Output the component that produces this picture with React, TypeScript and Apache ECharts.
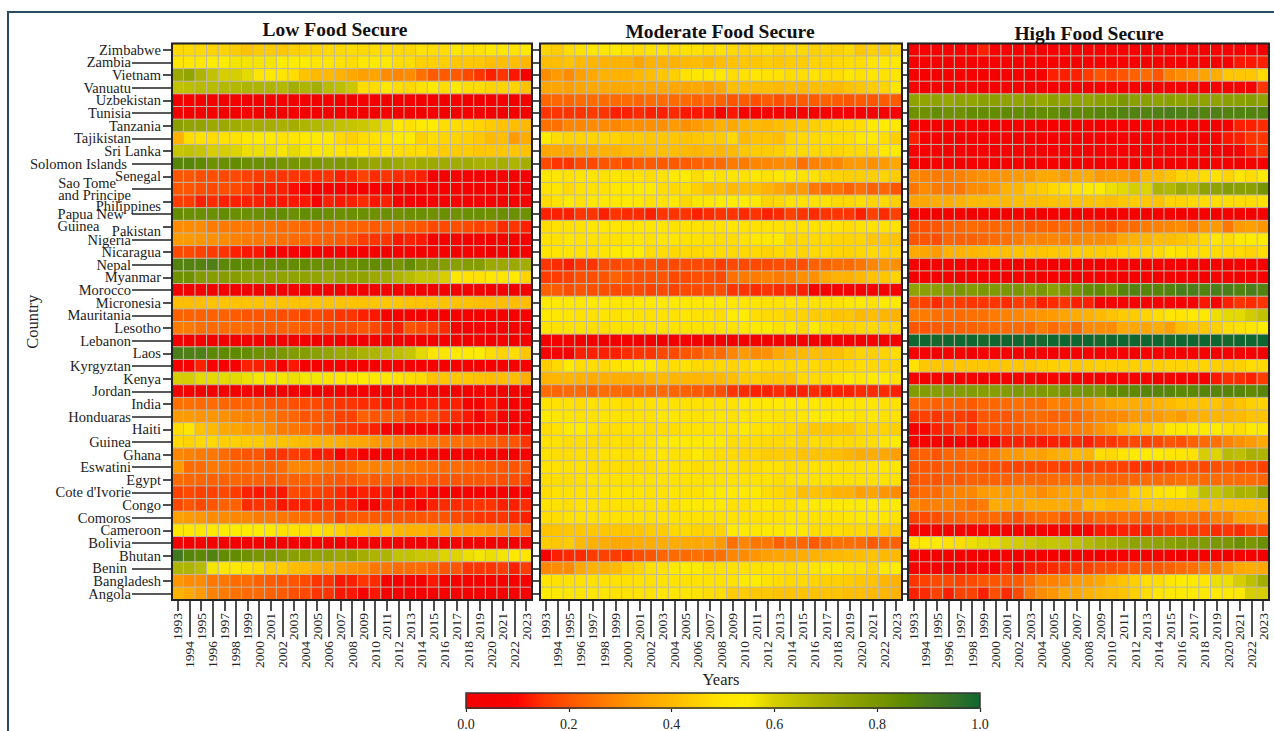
import React, { useEffect, useRef } from "react";
import * as echarts from "echarts";

const countries = ["Zimbabwe","Zambia","Vietnam","Vanuatu","Uzbekistan","Tunisia","Tanzania","Tajikistan","Sri Lanka","Solomon Islands","Senegal","Sao Tome\nand Principe","Philippines","Papua New\nGuinea","Pakistan","Nigeria","Nicaragua","Nepal","Myanmar","Morocco","Micronesia","Mauritania","Lesotho","Lebanon","Laos","Kyrgyztan","Kenya","Jordan","India","Honduaras","Haiti","Guinea","Ghana","Eswatini","Egypt","Cote d'Ivorie","Congo","Comoros","Cameroon","Bolivia","Bhutan","Benin","Bangladesh","Angola"];
const years = ["1993","1994","1995","1996","1997","1998","1999","2000","2001","2002","2003","2004","2005","2006","2007","2008","2009","2010","2011","2012","2013","2014","2015","2016","2017","2018","2019","2020","2021","2022","2023"];
const panelTitles = ["Low Food Secure","Moderate Food Secure","High Food Secure"];
const colorbarPalette = ["#f60000","#f20000","#fb0300","#ff3400","#ff5500","#ff7000","#ff8c00","#ffa500","#ffba00","#ffd000","#ffe600","#fcec00","#d6ce00","#bcc000","#a4ae00","#8ea200","#7a9600","#5f8a00","#4a7e1a","#357228","#0f6630"];

// values in percent of the 0 to 1 scale, rows top to bottom, columns 1993 to 2023
const lowFood = [
[47,47,47,46,46,44,42,44,44,43,45,46,46,47,47,48,47,48,48,47,47,49,48,48,51,49,49,52,52,49,52],
[50,51,51,55,55,56,56,56,56,55,55,55,50,50,49,48,52,53,53,48,48,45,45,45,43,43,43,41,41,41,39],
[72,74,68,64,60,60,58,50,53,50,48,42,40,40,38,36,34,35,30,29,30,25,21,21,21,18,15,13,15,12,5],
[64,65,66,66,67,67,68,68,68,67,70,68,70,66,65,62,48,48,52,48,47,49,53,48,53,48,48,46,46,46,42],
[5,6,5,4,5,6,5,5,4,6,5,5,4,6,5,5,6,4,5,5,6,5,4,5,6,5,5,4,6,5,5],
[5,5,4,6,5,5,6,5,5,4,6,5,5,4,5,6,5,5,6,5,4,5,6,5,5,6,4,5,5,6,5],
[76,74,74,72,72,71,70,70,70,69,70,68,67,66,64,63,62,60,58,52,49,53,54,48,48,47,46,44,42,41,40],
[38,48,49,48,49,49,52,53,53,49,50,52,53,53,47,45,48,49,50,53,54,45,48,46,46,45,43,40,41,33,37],
[63,64,63,60,60,59,57,57,57,56,58,56,50,56,49,49,50,48,49,48,48,48,46,44,44,44,43,43,43,43,42],
[87,87,85,82,83,84,83,83,83,81,81,80,80,78,79,78,75,73,74,72,70,72,72,71,71,71,69,69,70,68,70],
[20,20,19,19,18,18,17,16,16,15,15,15,14,15,13,14,17,14,15,14,14,13,6,6,6,6,6,6,6,6,6],
[20,20,19,18,19,18,16,13,13,13,11,8,7,8,6,7,6,7,6,6,5,6,6,7,6,6,5,6,6,6,5],
[16,16,13,14,13,13,13,13,12,12,12,12,7,13,12,13,14,12,13,6,6,6,6,6,6,6,6,6,6,6,6],
[84,83,83,83,84,83,83,83,84,84,83,84,84,83,83,83,83,82,83,82,83,83,82,83,82,83,83,82,83,83,82],
[30,30,30,27,27,26,26,25,25,24,24,23,22,22,23,22,22,21,22,22,21,20,18,18,19,18,17,18,14,15,13],
[33,33,32,31,30,28,27,26,26,25,24,23,22,22,21,20,16,15,15,12,13,12,6,6,6,6,6,6,6,6,6],
[18,18,17,16,15,13,12,12,7,8,7,7,7,7,7,6,6,6,5,6,6,5,6,6,5,6,6,5,6,6,5],
[88,88,88,89,86,86,85,84,84,84,84,84,83,83,83,82,84,84,84,81,84,80,80,77,76,77,77,72,72,72,70],
[82,82,78,77,77,77,75,75,75,75,75,75,74,72,74,74,75,72,71,68,66,63,63,60,51,49,49,51,50,53,46],
[5,5,4,5,6,5,5,4,5,5,6,5,4,5,5,6,5,5,4,5,6,5,5,4,5,6,5,5,4,5,5],
[41,41,41,42,42,42,42,42,42,42,42,42,42,42,42,42,42,43,43,43,42,42,42,42,42,42,41,41,41,41,41],
[22,22,22,22,22,21,20,20,20,19,19,17,18,17,15,15,13,12,6,6,6,6,6,6,6,6,6,6,6,6,6],
[27,27,25,24,24,24,24,22,22,22,22,21,20,19,19,19,20,18,14,13,20,18,17,14,6,6,6,6,6,6,6],
[5,5,6,5,4,5,5,6,5,4,5,5,5,6,5,4,5,5,6,5,4,5,5,6,5,5,4,5,6,5,5],
[90,89,89,86,85,85,84,82,82,80,78,77,76,74,72,72,69,68,66,65,63,58,50,50,53,53,54,48,46,48,43],
[6,8,13,6,7,7,13,13,12,7,12,6,7,7,7,7,6,6,7,6,6,7,6,6,7,6,6,7,6,6,7],
[60,60,58,58,58,58,57,56,56,56,57,56,56,49,50,51,53,53,50,49,48,47,42,42,43,43,42,41,41,41,37],
[5,6,5,5,4,5,6,5,4,5,5,6,5,5,4,5,6,5,4,5,5,6,5,4,5,5,6,5,5,4,5],
[25,25,24,24,23,22,22,22,20,20,19,18,18,16,15,15,14,14,12,13,12,12,13,12,13,6,6,12,6,6,6],
[33,33,32,32,31,29,28,28,27,24,23,20,21,20,17,17,22,20,21,20,17,18,18,15,14,12,6,13,6,6,6],
[48,50,42,40,36,35,33,33,30,27,26,24,21,20,16,15,14,13,7,6,6,6,6,6,6,6,6,6,6,6,6],
[47,46,47,47,45,45,44,44,42,42,41,40,38,38,37,36,35,33,31,29,28,27,26,25,25,24,23,22,20,20,15],
[29,28,27,26,24,21,20,20,16,15,16,15,12,13,7,12,6,6,6,7,6,6,6,7,6,6,6,6,7,6,6],
[33,24,24,26,26,24,24,24,23,24,29,29,28,27,25,26,29,28,28,27,26,25,24,24,24,23,22,21,20,20,20],
[24,23,23,22,22,23,22,22,21,22,22,22,22,21,20,21,22,21,22,21,21,21,20,20,20,20,20,20,19,19,17],
[17,18,17,17,18,16,13,12,13,12,18,17,17,16,14,12,13,12,13,6,6,12,7,7,6,6,6,6,6,6,6],
[18,20,18,20,22,22,14,15,15,12,13,13,12,14,13,13,6,6,13,13,12,6,13,14,14,14,15,15,13,13,14],
[34,33,32,30,30,29,29,27,27,26,25,24,23,22,18,21,21,21,20,20,20,20,20,20,18,17,15,15,15,14,13],
[50,51,50,53,53,54,54,54,53,49,49,48,49,47,45,42,42,41,42,39,38,38,36,36,35,34,34,32,31,29,27],
[5,5,6,5,5,4,5,6,5,5,4,5,6,5,5,5,4,5,6,5,5,5,4,5,6,5,5,5,4,5,6],
[92,87,86,88,84,84,82,80,80,78,76,76,74,74,72,74,70,68,68,64,64,62,62,59,59,57,56,57,56,52,50],
[68,68,66,56,52,53,49,48,44,44,41,40,37,36,33,32,30,26,26,24,24,24,22,20,20,15,15,15,16,13,16],
[32,30,30,26,26,24,24,22,21,20,20,18,15,15,12,13,15,14,6,6,6,6,12,6,6,6,6,6,6,6,6],
[38,36,33,28,27,25,24,24,22,21,19,18,15,15,12,12,6,12,6,6,6,6,6,7,6,6,6,6,6,6,6],
];
const moderateFood = [
[46,44,48,49,50,50,53,49,48,49,49,48,49,49,48,49,47,46,47,48,46,47,47,45,46,45,47,43,45,44,46],
[41,41,42,40,39,38,38,38,35,38,38,38,40,41,39,41,42,43,43,44,43,44,44,46,46,47,48,48,50,52,52],
[30,33,30,34,36,38,38,38,40,41,43,45,49,52,52,51,48,49,50,49,49,48,48,49,48,48,51,49,50,49,50],
[35,35,34,35,36,36,36,36,36,36,36,36,35,36,34,36,41,41,41,41,40,41,40,41,41,40,42,43,44,46,50],
[23,23,23,24,24,24,24,24,23,24,24,24,24,22,23,22,20,21,19,21,19,20,21,21,22,21,20,21,20,21,21],
[15,15,15,15,16,15,13,13,14,13,13,14,12,12,12,6,12,6,6,6,6,7,6,6,6,6,7,6,6,6,6],
[25,25,29,29,30,30,29,31,31,31,31,33,31,33,35,38,36,39,40,39,41,42,43,45,46,47,48,48,53,54,52],
[54,48,46,46,46,46,46,44,44,43,43,43,42,43,44,44,47,40,42,42,41,46,47,47,48,48,48,52,53,48,45],
[35,36,36,37,37,38,38,40,40,41,41,41,40,39,40,39,40,43,44,44,45,47,47,47,47,46,47,47,47,52,53],
[18,15,15,18,18,20,20,18,21,21,21,21,21,22,23,24,27,27,29,29,30,30,25,28,29,29,33,33,31,33,36],
[50,50,49,50,50,49,50,49,49,48,49,53,54,48,52,49,50,49,52,49,52,53,49,49,47,46,45,45,45,46,44],
[49,50,47,49,49,49,51,51,53,53,48,47,48,45,42,42,40,41,41,38,36,33,33,26,24,25,22,25,22,23,20],
[47,49,53,49,51,51,52,53,52,49,49,52,47,50,52,54,54,54,53,46,47,49,49,49,49,47,47,48,46,47,45],
[13,13,13,15,15,13,15,14,14,13,15,15,15,13,14,15,15,14,15,13,14,17,15,14,15,15,15,13,17,14,17],
[48,49,49,49,50,50,50,50,50,50,50,49,49,49,49,49,50,49,49,49,49,49,49,49,49,49,48,49,49,49,49],
[49,49,50,49,49,49,49,50,50,49,50,50,49,49,49,48,48,49,51,52,53,46,47,47,47,46,46,46,43,43,42],
[50,50,50,49,49,50,54,54,54,48,48,47,47,47,48,48,47,47,47,46,47,47,46,47,47,46,46,47,47,46,46],
[15,14,13,15,15,18,18,19,18,19,18,18,18,18,18,16,18,18,18,18,19,19,19,22,22,24,24,26,29,32,31],
[16,16,17,19,19,20,22,20,19,19,20,18,18,19,19,18,25,27,27,28,27,28,31,31,36,38,38,40,42,43,46],
[22,21,19,20,19,19,18,18,18,17,18,17,18,18,18,19,15,15,14,15,14,14,13,6,6,6,6,6,6,6,6],
[53,53,53,52,53,53,52,52,53,53,53,53,53,52,53,53,51,50,50,49,49,50,49,49,49,49,51,53,49,53,53],
[52,51,50,49,49,50,49,51,49,49,49,49,50,49,49,48,54,54,48,47,47,46,46,44,44,42,43,40,41,39,38],
[49,49,49,49,48,48,49,49,49,49,49,49,49,49,49,49,49,50,53,53,49,52,47,53,48,47,46,47,47,46,46],
[5,6,6,5,4,5,5,6,5,4,5,5,6,5,5,4,5,6,5,5,4,5,6,5,5,4,5,5,6,5,5],
[6,6,6,13,13,13,13,14,15,15,18,18,20,21,24,24,29,33,30,31,36,38,40,41,41,41,44,46,45,46,48],
[44,47,53,48,48,47,49,52,53,53,48,48,49,47,47,47,46,47,49,47,47,47,47,47,46,47,47,48,47,46,46],
[38,39,39,38,37,37,37,37,37,39,40,39,39,39,40,40,41,44,44,43,43,43,47,47,47,49,53,50,53,53,49],
[24,23,24,24,23,24,24,23,23,23,24,23,22,21,20,19,15,14,13,13,14,13,13,14,13,13,13,14,14,14,13],
[49,49,49,48,49,49,49,48,49,49,49,49,49,49,49,49,49,52,52,51,53,53,52,52,50,50,51,50,50,49,49],
[53,50,50,49,49,50,49,49,49,49,50,50,49,49,50,50,49,50,50,50,49,49,50,53,53,53,53,49,52,49,49],
[48,49,53,54,49,48,48,49,49,48,48,48,49,49,49,49,49,53,49,49,48,47,45,43,43,43,43,46,46,46,45],
[49,49,48,48,48,48,49,48,49,49,53,54,53,53,53,53,48,48,48,47,47,48,46,48,47,48,47,48,48,50,54],
[49,48,48,48,48,49,49,48,49,49,50,49,49,53,49,48,47,46,46,44,44,44,42,42,42,41,39,37,37,36,34],
[49,49,49,49,48,48,48,48,48,48,49,49,49,48,49,49,49,48,48,49,49,48,48,49,49,49,49,49,49,50,50],
[48,48,48,48,49,49,49,49,49,49,49,49,49,49,49,49,49,49,49,49,48,49,49,49,49,49,49,49,49,49,49],
[48,49,49,49,49,50,50,50,50,49,49,50,49,49,53,53,53,53,53,48,47,46,41,42,41,38,38,34,35,32,30],
[49,49,48,49,49,49,49,49,49,49,49,49,53,53,53,53,49,49,52,52,49,49,52,53,53,53,53,53,53,53,53],
[48,48,49,49,49,49,49,49,49,49,49,49,49,49,49,49,49,49,49,49,49,50,49,49,49,49,50,52,52,50,49],
[42,42,43,43,43,43,43,43,43,44,44,47,47,46,46,46,53,53,52,53,52,53,52,48,48,48,47,47,46,44,44],
[44,43,44,40,38,37,36,36,37,37,37,37,36,36,36,33,25,29,26,26,22,24,23,21,23,25,25,24,21,23,22],
[6,13,14,14,16,17,16,15,19,20,23,24,24,25,24,25,29,30,32,34,35,36,37,38,39,40,41,41,42,40,40],
[29,30,30,36,38,38,40,45,46,49,49,53,54,54,49,49,49,49,49,49,49,48,49,50,53,53,49,49,46,53,54],
[50,49,49,49,49,49,49,49,49,49,49,49,49,49,49,49,49,53,54,49,48,47,47,46,45,45,44,43,42,39,38],
[54,52,50,50,50,50,49,49,49,49,50,50,50,49,48,48,44,44,43,43,42,42,42,42,42,42,41,41,40,39,38],
];
const highFood = [
[6,6,6,6,6,6,13,6,6,6,6,5,6,6,6,5,6,6,6,6,5,6,6,6,6,5,6,6,6,6,5],
[6,6,6,5,6,6,6,6,6,5,6,6,6,6,5,6,6,6,6,6,5,6,6,6,6,6,5,6,12,12,13],
[6,6,5,6,6,6,6,5,6,6,6,6,13,13,13,16,20,18,20,22,24,20,28,30,32,35,37,43,43,43,47],
[6,5,6,6,6,6,5,6,6,6,5,6,6,6,6,5,6,6,6,6,5,6,6,6,5,6,6,6,6,6,15],
[75,74,75,73,75,74,76,76,75,74,76,73,76,74,75,74,76,76,80,76,76,75,76,75,76,75,75,76,76,77,75],
[82,82,84,82,82,84,84,84,85,84,85,84,84,87,85,85,87,87,88,88,88,89,90,89,89,88,89,88,88,88,88],
[6,6,5,6,6,6,5,6,6,6,6,5,6,6,6,6,5,6,6,6,6,5,6,6,6,6,5,6,13,13,14],
[13,6,6,6,5,6,6,6,6,5,6,6,6,6,5,6,6,6,6,5,6,6,6,6,5,6,6,12,13,15,15],
[6,6,6,5,6,6,6,5,6,6,6,5,6,6,6,5,6,6,6,5,6,6,6,5,6,6,6,5,6,13,15],
[6,5,6,6,5,6,6,5,6,6,5,6,6,5,6,6,5,6,6,5,6,6,5,6,6,5,6,6,5,6,6],
[30,28,27,27,28,30,31,31,32,33,33,36,36,33,36,37,33,34,34,32,40,40,42,46,46,48,49,46,50,48,53],
[26,30,27,26,26,30,30,33,38,39,43,44,47,48,49,53,54,57,58,60,59,68,67,72,69,75,75,77,76,76,81],
[35,35,37,37,38,40,40,40,40,41,41,41,42,42,42,42,42,41,43,44,43,42,46,46,47,48,48,48,48,48,49],
[6,6,5,6,6,5,6,6,5,6,6,5,6,6,5,6,6,5,6,6,5,6,6,5,6,6,5,6,6,5,6],
[19,19,20,22,23,24,23,23,24,24,22,23,22,24,23,24,22,21,24,24,27,28,29,30,27,32,33,26,33,34,32],
[20,20,19,23,22,22,23,24,25,27,29,28,29,28,29,30,30,31,36,38,39,41,41,42,44,47,50,48,53,54,54],
[36,35,33,38,38,39,40,41,41,42,42,42,43,43,44,44,44,45,46,46,46,47,50,49,48,48,48,47,47,46,48],
[6,5,6,6,6,5,6,6,6,5,6,6,5,6,6,6,5,6,6,6,5,6,6,6,5,6,6,5,6,6,6],
[5,6,6,6,5,6,6,6,5,6,6,5,6,6,5,6,6,6,5,6,6,5,6,6,6,5,6,6,5,6,6],
[75,76,76,78,80,78,80,79,80,80,78,80,76,80,81,84,85,82,87,88,87,87,88,90,90,88,90,90,88,90,88],
[19,17,14,17,16,15,15,15,14,16,16,13,14,15,13,13,6,6,6,6,6,6,6,7,6,12,6,13,15,14,15],
[27,27,25,24,24,25,25,27,28,29,31,32,33,35,37,38,40,42,44,44,46,48,50,50,53,52,57,58,58,61,64],
[20,20,21,21,22,22,23,24,24,24,23,27,24,27,24,30,30,30,36,36,35,37,34,41,43,43,45,48,49,50,54],
[100,100,99,100,100,100,99,100,100,100,100,99,100,100,100,100,99,100,100,100,100,100,99,100,100,100,100,99,100,100,100],
[6,6,5,6,6,5,6,6,6,5,6,6,5,6,6,6,5,6,6,5,6,6,6,5,6,6,5,6,6,6,5],
[49,43,43,42,43,43,43,42,43,43,43,44,45,45,43,44,45,45,45,45,45,45,46,46,46,46,45,44,45,48,47],
[6,5,6,6,6,6,5,6,6,6,6,5,6,6,6,6,5,6,6,6,6,5,6,6,6,6,12,14,14,13,16],
[78,78,77,78,77,78,77,77,78,79,78,79,78,81,80,81,80,84,85,85,87,87,87,86,86,87,87,87,87,85,87],
[23,23,22,22,22,21,23,23,24,25,24,24,28,27,28,30,33,36,37,37,37,38,40,42,42,42,42,39,42,45,46],
[15,17,15,17,16,15,20,20,20,22,24,24,22,23,23,26,29,29,30,33,33,33,35,33,37,38,39,39,40,42,42],
[6,6,13,14,18,14,20,20,20,21,22,23,25,26,27,28,31,34,40,42,43,46,51,52,53,53,54,49,48,53,50],
[6,6,6,5,6,6,6,6,13,13,13,12,13,13,14,13,15,15,17,18,17,18,20,19,22,24,25,28,31,33,36],
[21,22,20,23,24,26,26,28,32,33,35,34,37,38,40,39,48,47,50,53,54,54,50,50,49,60,59,66,65,69,68],
[20,20,20,21,20,20,19,19,18,17,17,17,17,16,17,16,17,17,17,15,15,15,16,18,19,18,19,20,18,19,17],
[20,21,20,21,21,22,22,22,22,23,23,23,24,24,24,24,24,23,23,23,24,24,24,25,25,24,24,24,24,24,23],
[22,24,24,27,29,29,33,34,33,34,33,30,33,35,36,34,36,34,36,45,46,49,50,52,58,65,63,66,69,68,76],
[30,27,28,28,27,25,27,37,36,34,37,37,37,37,34,41,42,40,40,41,42,42,42,42,41,41,41,41,41,41,40],
[17,18,19,21,22,24,23,24,21,19,23,24,24,20,22,21,23,23,24,23,22,23,22,26,26,24,28,28,34,34,36],
[6,6,6,5,6,6,6,6,6,6,5,6,6,6,6,6,12,12,13,13,13,14,15,15,15,16,14,15,14,17,18],
[49,52,53,49,48,57,58,58,60,61,62,64,63,64,65,67,69,70,72,75,74,75,76,78,78,78,80,80,83,80,83],
[6,6,5,6,6,6,5,6,6,5,6,6,6,5,6,6,5,6,6,6,5,6,6,5,6,6,6,5,6,6,5],
[6,6,6,6,5,6,6,6,13,6,13,13,14,15,16,17,19,19,20,21,21,21,22,24,25,28,28,32,36,37,36],
[15,17,18,18,17,18,20,20,20,21,24,28,28,30,33,34,36,40,42,45,48,48,50,54,53,50,57,57,60,65,70],
[13,14,17,13,17,17,13,19,14,18,26,30,32,36,36,38,40,41,42,45,48,50,52,53,53,53,53,52,52,60,60],
];
const colorbarTicks = [0, 0.2, 0.4, 0.6, 0.8, 1];

const serif = "'Liberation Serif', 'Times New Roman', serif";
const ink = "#222";
const gridBoxes = [
  { left: 172, width: 360 },
  { left: 540, width: 362 },
  { left: 908, width: 361 },
];
const titleSpots = [
  { left: 335, top: 19 },
  { left: 720, top: 21 },
  { left: 1089, top: 23 },
];

function yLabel(name: string) {
  if (name === "Philippines" || name === "Pakistan") return `{low|${name}}`;
  if (name === "Solomon Islands" || name === "Benin") return `{pad|${name}}`;
  if (name.startsWith("Sao")) return name.split("\n").map((s) => `{two|${s}}`).join("\n");
  if (name.startsWith("Papua")) return ["{two| }", ...name.split("\n").map((s) => `{pap|${s}}`)].join("\n");
  return name;
}

function buildOption() {
  const xAxis: any[] = [];
  const yAxis: any[] = [];
  const grid: any[] = [];
  const series: any[] = [];
  const tickLine = { show: true, lineStyle: { color: ink, width: 1.6 } };
  const yearLabel = { fontFamily: serif, fontSize: 13.5, color: ink, rotate: 90 };
  const labelFont = {
    fontFamily: serif, fontSize: 14.5, color: ink,
    rich: {
      low: { fontFamily: serif, fontSize: 14.5, color: ink, padding: [8, 0, 0, 0] },
      pad: { fontFamily: serif, fontSize: 14.5, color: ink, padding: [0, 4, 0, 0] },
      two: { fontFamily: serif, fontSize: 14.5, color: ink, lineHeight: 11.5, align: "left" },
      pap: { fontFamily: serif, fontSize: 14.5, color: ink, lineHeight: 12, align: "left", padding: [0, 7, 0, 0] },
    },
  };
  const data = [lowFood, moderateFood, highFood];
  gridBoxes.forEach((box, p) => {
    grid.push({
      show: true, z: 5, left: box.left, width: box.width, top: 43.5, height: 556.5,
      backgroundColor: "transparent", borderColor: ink, borderWidth: 2,
    });
    const xStart = xAxis.length;
    xAxis.push({
      type: "category", gridIndex: p, position: "bottom", data: years,
      axisLine: { show: false },
      axisTick: { ...tickLine, alignWithLabel: true, length: 11, interval: (i: number) => i % 2 === 0 },
      axisLabel: { ...yearLabel, margin: 13, interval: (i: number) => i % 2 === 0 },
      splitLine: { show: false },
      ...(p === 1 ? { name: "Years", nameLocation: "middle", nameGap: 71, nameTextStyle: { fontFamily: serif, fontSize: 16.5, color: ink } } : {}),
    });
    xAxis.push({
      type: "category", gridIndex: p, position: "bottom", data: years,
      axisLine: { show: false },
      axisTick: { ...tickLine, alignWithLabel: true, length: 37, interval: (i: number) => i % 2 === 1 },
      axisLabel: { ...yearLabel, margin: 41, interval: (i: number) => i % 2 === 1 },
      splitLine: { show: false },
    });
    const yStart = yAxis.length;
    if (p === 0) {
      yAxis.push({
        type: "category", gridIndex: p, position: "left", inverse: true, data: countries,
        axisLine: { show: false },
        axisTick: { ...tickLine, alignWithLabel: true, length: 9, interval: (i: number) => i % 2 === 0 },
        axisLabel: { ...labelFont, margin: 11, interval: (i: number) => i % 2 === 0, formatter: yLabel },
        splitLine: { show: false },
      });
      yAxis.push({
        type: "category", gridIndex: p, position: "left", inverse: true, data: countries,
        axisLine: { show: false },
        axisTick: { ...tickLine, alignWithLabel: true, length: 40, interval: (i: number) => i % 2 === 1 },
        axisLabel: { ...labelFont, margin: 41, interval: (i: number) => i % 2 === 1, formatter: yLabel },
        splitLine: { show: false },
        name: "Country", nameLocation: "middle", nameGap: 131, nameMoveOverlap: false,
        nameTextStyle: { fontFamily: serif, fontSize: 16.5, color: ink },
      });
    } else {
      yAxis.push({
        type: "category", gridIndex: p, position: "left", inverse: true, data: countries,
        axisLine: { show: false },
        axisTick: { ...tickLine, alignWithLabel: true, length: 7, interval: 0 },
        axisLabel: { show: false },
        splitLine: { show: false },
      });
    }
    const cells: number[][] = [];
    data[p].forEach((row, r) => row.forEach((v, c) => cells.push([c, r, v / 100])));
    series.push({
      type: "heatmap", name: panelTitles[p], xAxisIndex: xStart, yAxisIndex: yStart, data: cells,
      progressive: 0,
      itemStyle: { borderColor: "#c0b7a4", borderWidth: 1 },
      emphasis: { disabled: true },
    });
  });

  // colour bar axis
  const barGrid = grid.length;
  grid.push({
    show: true, z: 10, left: 466, width: 514, top: 693, height: 16,
    backgroundColor: "transparent", borderColor: "#333", borderWidth: 1.5,
  });
  xAxis.push({
    type: "value", gridIndex: barGrid, position: "bottom", min: 0, max: 1, interval: 0.2,
    axisLine: { show: false },
    axisTick: { show: true, length: 4, lineStyle: { color: ink, width: 1.2 } },
    splitLine: { show: false },
    axisLabel: {
      fontFamily: serif, fontSize: 14, color: ink, margin: 9,
      formatter: (v: number) => v.toFixed(1),
      customValues: colorbarTicks,
    },
  });
  yAxis.push({ type: "value", gridIndex: barGrid, min: 0, max: 1, show: false });

  return {
    animation: false,
    backgroundColor: "#fff",
    title: panelTitles.map((text, i) => ({
      text, left: titleSpots[i].left, top: titleSpots[i].top, textAlign: "center", padding: 0,
      textStyle: { fontFamily: serif, fontSize: 19.5, fontWeight: "bold", color: "#111" },
    })),
    grid, xAxis, yAxis, series,
    visualMap: {
      type: "continuous", show: true, min: 0, max: 1, seriesIndex: [0, 1, 2], dimension: 2,
      orient: "horizontal", left: 466, top: 693, padding: 0, itemWidth: 16, itemHeight: 514,
      calculable: false, realtime: false, text: ["", ""], showLabel: false, itemGap: 0,
      inRange: { color: colorbarPalette },
      textStyle: { fontSize: 1 },
    },
    graphic: [{
      type: "rect", silent: true, z: -1,
      shape: { x: 8, y: 12, width: 1400, height: 900 },
      style: { fill: "transparent", stroke: "#2c4a62", lineWidth: 2 },
    }],
  };
}

export default function App() {
  const ref = useRef<HTMLDivElement>(null);
  useEffect(() => {
    document.body.style.margin = "0";
    const chart = echarts.init(ref.current!, undefined, { renderer: "svg" });
    chart.setOption(buildOption() as any);
    return () => chart.dispose();
  }, []);
  return <div ref={ref} style={{ width: 1274, height: 731, overflow: "hidden" }} />;
}
